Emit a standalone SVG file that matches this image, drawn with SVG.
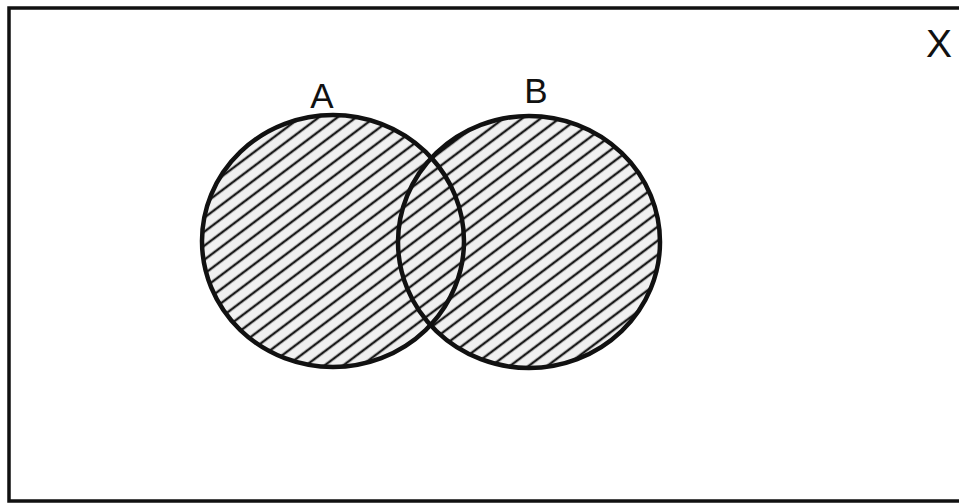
<svg xmlns="http://www.w3.org/2000/svg" width="959" height="504" viewBox="0 0 959 504">
<style>
.lbl{font-family:"Liberation Sans",Arial,sans-serif;font-size:35px;fill:#111;text-anchor:middle}
.set{fill:url(#hatch);stroke:#111;stroke-width:4.5}
.frame{fill:none;stroke:#111;stroke-width:3.5}
</style>
<defs>
<pattern id="hatch" patternUnits="userSpaceOnUse" width="11.2" height="11.2" patternTransform="rotate(-37)">
<rect width="11.2" height="11.2" fill="#f0f0f0"/>
<line x1="0" y1="5.6" x2="11.2" y2="5.6" stroke="#1a1a1a" stroke-width="2.4"/>
</pattern>
</defs>
<rect width="959" height="504" fill="#fff"/>
<path class="frame" d="M965,8 L9,8 L9,501 L965,501"/>
<text class="lbl" x="939" y="57" style="font-size:39px">X</text>
<g id="setA">
<ellipse class="set" cx="333" cy="241" rx="131" ry="126"/>
<text class="lbl" x="322" y="108">A</text>
</g>
<g id="setB">
<ellipse class="set" cx="529" cy="242" rx="131" ry="126"/>
<text class="lbl" x="536" y="103">B</text>
</g>
<g id="overlap">
<path d="M431,157.4 A131,126 0 0 1 431,324.6" fill="none" stroke="#111" stroke-width="4.5"/>
</g>
<g id="connectors"/>
</svg>
